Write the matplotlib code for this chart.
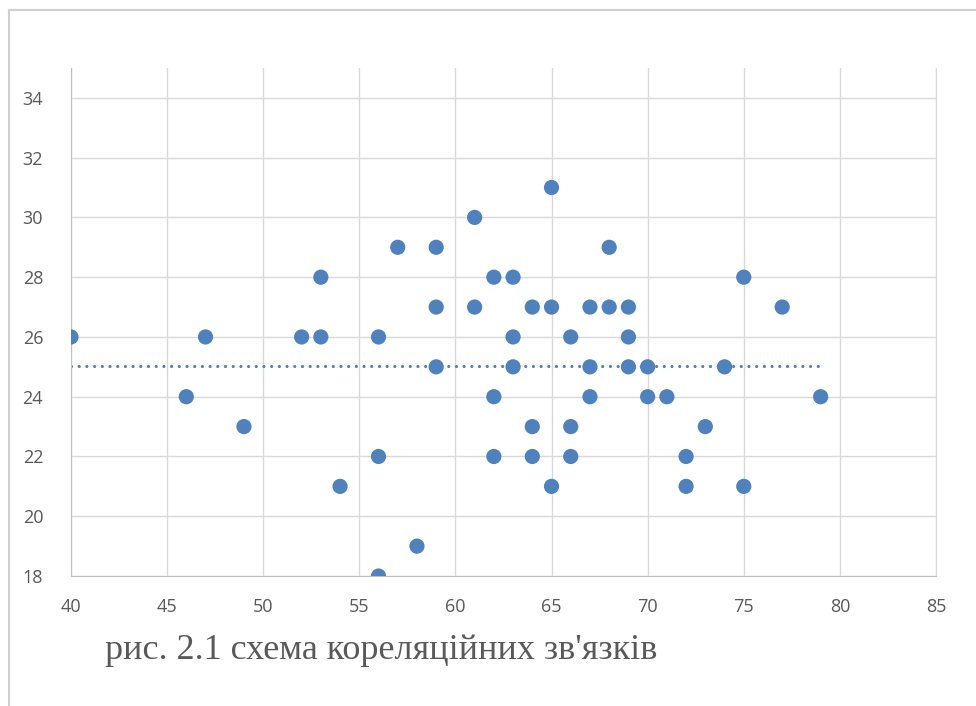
"""
Scatter of correlation links (рис. 2.1) with a flat trend line at the mean.
"""

# Imports #
import numpy as np
import matplotlib
matplotlib.use("Agg")
from matplotlib import pyplot as plt
from matplotlib.lines import Line2D

# Data #
x_values = [40, 46, 47, 49, 52, 53, 53, 54, 56, 56, 56, 57, 58,
            59, 59, 59, 61, 61, 62, 62, 62, 63, 63, 63, 64, 64, 64,
            65, 65, 65, 66, 66, 66, 67, 67, 67, 68, 68, 69, 69, 69,
            70, 70, 71, 72, 72, 73, 74, 75, 75, 77, 79]
y_values = [26, 24, 26, 23, 26, 28, 26, 21, 26, 22, 18, 29, 19,
            29, 27, 25, 30, 27, 28, 24, 22, 28, 26, 25, 27, 23, 22,
            31, 27, 21, 26, 23, 22, 27, 25, 24, 29, 27, 27, 26, 25,
            25, 24, 24, 22, 21, 23, 25, 28, 21, 27, 24]
x_ticks = [40, 45, 50, 55, 60, 65, 70, 75, 80, 85]
y_ticks = [18, 20, 22, 24, 26, 28, 30, 32, 34]
caption = "рис. 2.1 схема кореляційних зв'язків"

BLUE = "#4f81bd"
GRID = "#d9d9d9"
TEXT = "#595959"

fig = plt.figure(figsize=(9.76, 7.06), dpi=100)
ax = fig.add_axes([0.0727, 0.1841, 0.8863, 0.7196])

# Points and trend line (flat in the original, so drawn at the mean)
ax.scatter(x_values, y_values, s=120, color=BLUE, edgecolors="none", zorder=3)
y_mean = np.mean(y_values)
ax.plot([min(x_values), max(x_values)], [y_mean, y_mean], color=BLUE, lw=2.3,
        ls=(0, (0.01, 2.4)), dash_capstyle="round", zorder=2)

ax.set_xlim(40, 85)
ax.set_ylim(18, 35)
ax.set_xticks(x_ticks)
ax.set_yticks(y_ticks)
ax.grid(True, color=GRID, lw=1)
ax.set_axisbelow(True)
ax.tick_params(length=0, labelsize=13, labelcolor=TEXT, pad=16)
ax.tick_params(axis="y", pad=20)
for lab in ax.get_xticklabels() + ax.get_yticklabels():
    lab.set_family("Open Sans")

ax.spines["top"].set_visible(False)
ax.spines["right"].set_color(GRID)
ax.spines["left"].set_color("#bfbfbf")
ax.spines["bottom"].set_color("#bfbfbf")

# Caption and page frame
fig.text(0.108, 0.079, caption, family="Liberation Serif", fontsize=26,
         color=TEXT, va="center", ha="left")
fig.add_artist(Line2D([0.009, 0.009], [0.0, 0.986], color="#d0d0d0", lw=1.5))
fig.add_artist(Line2D([0.009, 1.0], [0.986, 0.986], color="#d0d0d0", lw=1.5))

fig.savefig("out.png", dpi=100)
